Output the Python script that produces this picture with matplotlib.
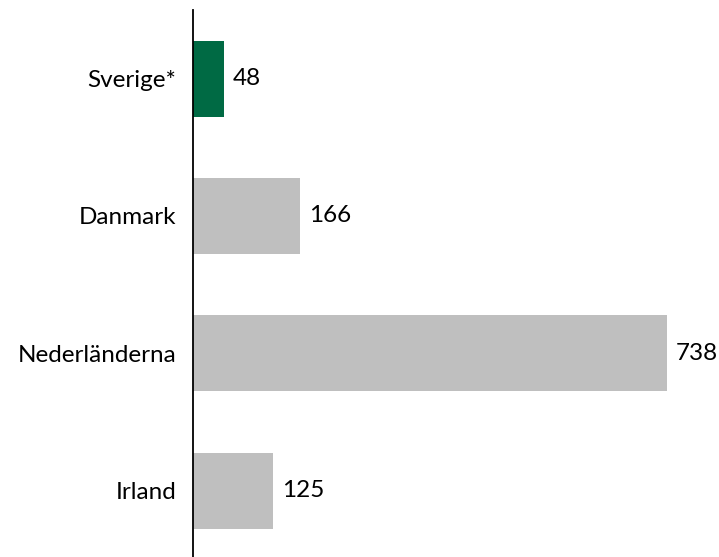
import numpy as np
import matplotlib
matplotlib.use("Agg")
import matplotlib.pyplot as plt

# data
lander = ["Sverige*", "Danmark", "Nederländerna", "Irland"]
varden = [48, 166, 738, 125]
farger = ["#006A44", "#BFBFBF", "#BFBFBF", "#BFBFBF"]

plt.rcParams['font.family'] = ['Lato', 'DejaVu Sans']

fig = plt.figure(figsize=(7.19, 5.57), dpi=100)
ax = fig.add_axes([193/719, 0, (719-193)/719, 547/557])

pos = np.arange(len(lander))
ax.barh(pos, varden, height=0.553, color=farger)
ax.set_ylim(3.484, -0.5)
ax.set_xlim(0, 526/0.6425)

for p, v in zip(pos, varden):
    ax.text(v + 14, p, str(v), va="center", ha="left", fontsize=17.5, color="black")

ax.set_yticks(pos)
ax.set_yticklabels(lander, fontsize=17.5)
ax.tick_params(axis="y", length=0, pad=12)
ax.set_xticks([])
for s in ["top", "right", "bottom"]:
    ax.spines[s].set_visible(False)
ax.spines["left"].set_linewidth(1.3)
ax.spines["left"].set_color("black")

fig.savefig("out.png", dpi=100)
